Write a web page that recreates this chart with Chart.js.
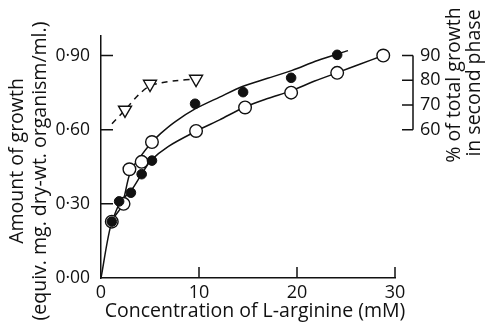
<!DOCTYPE html>
<html>
<head>
<meta charset="utf-8">
<script src="https://cdn.jsdelivr.net/npm/chart.js@4/dist/chart.umd.min.js"></script>
<style>
  html, body { margin: 0; padding: 0; background: #fff; }
</style>
</head>
<body>
<canvas id="growthChart" width="487" height="325"></canvas>
<script>
// tick values
var xTicks = [0, 10, 20, 30];
var yTicks = [0, 0.30, 0.60, 0.90];
var pctTicks = [60, 70, 80, 90];

// open circles
var concOpen = [1.1, 2.3, 2.9, 4.15, 5.2, 9.7, 14.7, 19.4, 24.1, 28.8];
var growthOpen = [0.228, 0.30, 0.44, 0.47, 0.55, 0.595, 0.69, 0.75, 0.83, 0.90];

// filled circles
var concFilled = [1.1, 1.85, 3.05, 4.15, 5.2, 9.6, 14.5, 19.4, 24.1];
var growthFilled = [0.228, 0.31, 0.345, 0.42, 0.475, 0.705, 0.752, 0.81, 0.903];

// triangles (% of total growth in second phase)
var concTri = [2.45, 5.0, 9.7];
var pctTri = [68, 78.5, 80.5];

// hand-drawn curves
var curveUpperX = [0, 1.1, 2.1, 3.0, 4.0, 5.1, 6.1, 7.55, 9.6, 12.1, 14.5, 17.0, 19.5, 22.1, 25.2];
var curveUpperY = [0, 0.228, 0.29, 0.43, 0.49, 0.545, 0.585, 0.632, 0.684, 0.732, 0.776, 0.808, 0.84, 0.88, 0.92];
var curveLowerX = [1.1, 2.0, 3.05, 4.2, 5.1, 6.85, 9.8, 12.1, 14.7, 17.0, 19.4, 21.8, 24.2, 26.4, 28.8];
var curveLowerY = [0.228, 0.31, 0.352, 0.424, 0.476, 0.532, 0.596, 0.64, 0.692, 0.726, 0.757, 0.797, 0.832, 0.865, 0.90];
var curveTriX = [1.12, 2.45, 3.8, 5.0, 6.2, 7.6, 9.7];
var curveTriY = [62.4, 68, 74, 77.8, 79, 79.8, 80.5];

var INK = '#111';
var FONT = "'Open Sans', sans-serif";

function toPoints(xs, ys) {
    return xs.map((x, i) => ({ x: x, y: ys[i] }));
}

function fixTicks(values) {
    return (scale) => { scale.ticks = values.map(v => ({ value: v })); };
}

// inward tick marks, the right-hand bracket and the axis titles
var decorations = {
    id: 'decorations',
    afterDraw(chart) {
        const ctx = chart.ctx;
        const x = chart.scales.x, y = chart.scales.y, y2 = chart.scales.y2;
        ctx.save();
        ctx.strokeStyle = INK;
        ctx.lineWidth = 1.5;
        ctx.beginPath();
        yTicks.forEach(v => {
            if (v === 0) return;
            const py = y.getPixelForValue(v);
            ctx.moveTo(y.right, py);
            ctx.lineTo(y.right + 12, py);
        });
        xTicks.forEach(v => {
            if (v === 0) return;
            const px = x.getPixelForValue(v);
            ctx.moveTo(px, x.top);
            ctx.lineTo(px, x.top - 11);
        });
        const bx = y2.left + 18;
        ctx.moveTo(bx, y2.getPixelForValue(pctTicks[0]));
        ctx.lineTo(bx, y2.getPixelForValue(pctTicks[pctTicks.length - 1]));
        pctTicks.forEach(v => {
            const py = y2.getPixelForValue(v);
            ctx.moveTo(bx, py);
            ctx.lineTo(bx - 11, py);
        });
        ctx.stroke();

        ctx.fillStyle = INK;
        ctx.font = '19.5px ' + FONT;
        ctx.textAlign = 'center';
        ctx.textBaseline = 'middle';
        ctx.fillText('Concentration of L-arginine (mM)', 255, 311);

        const vtext = (txt, cx, cy) => {
            ctx.save();
            ctx.translate(cx, cy);
            ctx.rotate(-Math.PI / 2);
            ctx.fillText(txt, 0, 0);
            ctx.restore();
        };
        vtext('Amount of growth', 17, 161);
        vtext('(equiv. mg. dry-wt. organism/ml.)', 40, 171);
        vtext('% of total growth', 454, 85);
        vtext('in second phase', 474, 83);
        ctx.restore();
    }
};

var ctx = document.getElementById('growthChart');

var chart = new Chart(ctx, {
    type: 'scatter',
    data: {
        datasets: [
            {
                label: 'curve upper',
                data: toPoints(curveUpperX, curveUpperY),
                showLine: true,
                borderColor: INK,
                borderWidth: 1.5,
                pointRadius: 0,
                tension: 0.3,
                order: 5
            },
            {
                label: 'curve lower',
                data: toPoints(curveLowerX, curveLowerY),
                showLine: true,
                borderColor: INK,
                borderWidth: 1.5,
                pointRadius: 0,
                tension: 0.3,
                order: 5
            },
            {
                label: 'curve second phase',
                data: toPoints(curveTriX, curveTriY),
                yAxisID: 'y2',
                showLine: true,
                borderColor: INK,
                borderWidth: 1.5,
                borderDash: [6, 5],
                pointRadius: 0,
                tension: 0.3,
                order: 5
            },
            {
                label: 'open',
                data: toPoints(concOpen, growthOpen),
                pointStyle: 'circle',
                pointRadius: 6.3,
                pointBackgroundColor: '#fff',
                pointBorderColor: INK,
                pointBorderWidth: 1.4,
                order: 3
            },
            {
                label: 'filled',
                data: toPoints(concFilled, growthFilled),
                pointStyle: 'circle',
                pointRadius: 4.8,
                pointBackgroundColor: INK,
                pointBorderColor: INK,
                pointBorderWidth: 1,
                order: 2
            },
            {
                label: 'second phase',
                data: toPoints(concTri, pctTri),
                yAxisID: 'y2',
                pointStyle: 'triangle',
                rotation: 180,
                pointRadius: 7.5,
                pointBackgroundColor: '#fff',
                pointBorderColor: INK,
                pointBorderWidth: 1.4,
                order: 1
            }
        ]
    },
    options: {
        responsive: false,
        animation: false,
        layout: { padding: { top: 33, left: 0, right: 0, bottom: 0 } },
        plugins: {
            legend: { display: false },
            tooltip: { enabled: false }
        },
        scales: {
            x: {
                type: 'linear',
                min: 0,
                max: 30,
                afterFit: (s) => { s.height = 47; },
                afterBuildTicks: fixTicks(xTicks),
                grid: { display: false, drawTicks: false },
                border: { display: true, color: INK, width: 1.5 },
                ticks: {
                    padding: 4,
                    color: INK,
                    font: { family: FONT, size: 18 },
                    callback: (v) => String(v)
                }
            },
            y: {
                min: 0,
                max: 0.98,
                afterFit: (s) => { s.width = 101; },
                afterBuildTicks: fixTicks(yTicks),
                grid: { display: false, drawTicks: false },
                border: { display: true, color: INK, width: 1.5 },
                ticks: {
                    padding: 11,
                    color: INK,
                    font: { family: FONT, size: 17.5 },
                    callback: (v) => v.toFixed(2).replace('.', '\u00B7')
                }
            },
            y2: {
                position: 'right',
                min: 0,
                max: 98,
                afterFit: (s) => { s.width = 92; },
                afterBuildTicks: fixTicks(pctTicks),
                grid: { display: false, drawTicks: false },
                border: { display: false },
                ticks: {
                    padding: 25,
                    color: INK,
                    font: { family: FONT, size: 18 },
                    callback: (v) => String(v)
                }
            }
        }
    },
    plugins: [decorations]
});
</script>
</body>
</html>
